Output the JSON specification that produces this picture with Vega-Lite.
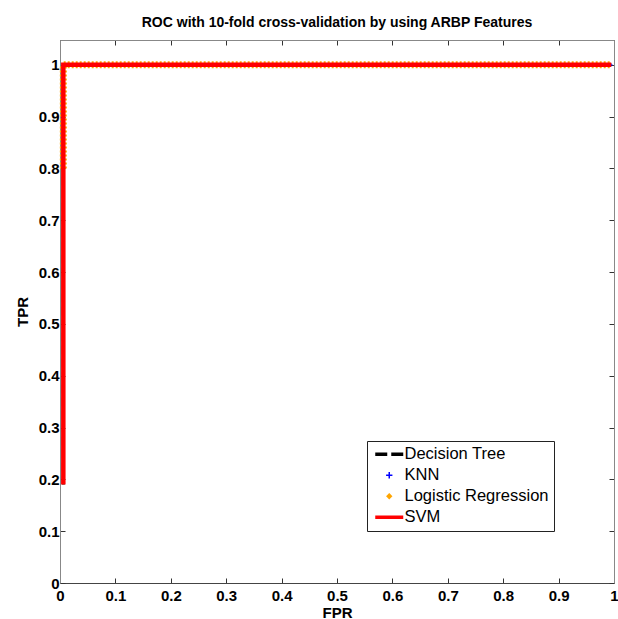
{
  "$schema": "https://vega.github.io/schema/vega-lite/v6.json",
  "width": 554,
  "height": 543,
  "autosize": "none",
  "padding": {"left": 60, "top": 40, "right": 4, "bottom": 36},
  "background": "white",
  "config": {
    "view": {"stroke": "#777"},
    "font": "Liberation Sans",
    "axis": {"grid": false}
  },
  "title": {
    "text": "ROC with 10-fold cross-validation by using ARBP Features",
    "font": "Liberation Sans",
    "fontSize": 14,
    "fontWeight": "bold",
    "color": "black",
    "anchor": "middle",
    "offset": 10
  },
  "data": {
    "values": [
      {"series": "Decision Tree", "fpr": 0.006, "tpr": 0.19, "step": 1},
      {"series": "Decision Tree", "fpr": 0.006, "tpr": 1.0, "step": 2},
      {"series": "Decision Tree", "fpr": 0.995, "tpr": 1.0, "step": 3},
      {"series": "KNN", "fpr": 0.006, "tpr": 1.0, "step": 1},
      {"series": "KNN", "fpr": 0.995, "tpr": 1.0, "step": 2},
      {"series": "Logistic Regression", "fpr": 0.006, "tpr": 0.8, "step": 1},
      {"series": "Logistic Regression", "fpr": 0.006, "tpr": 1.0, "step": 2},
      {"series": "Logistic Regression", "fpr": 0.995, "tpr": 1.0, "step": 3},
      {"series": "SVM", "fpr": 0.006, "tpr": 0.19, "step": 1},
      {"series": "SVM", "fpr": 0.006, "tpr": 1.0, "step": 2},
      {"series": "SVM", "fpr": 0.995, "tpr": 1.0, "step": 3}
    ]
  },
  "resolve": {"axis": {"x": "independent", "y": "independent"}},
  "encoding": {
    "x": {
      "field": "fpr", "type": "quantitative",
      "scale": {"domain": [0, 1], "nice": false, "zero": false},
      "axis": null
    },
    "y": {
      "field": "tpr", "type": "quantitative",
      "scale": {"domain": [0, 1.048], "nice": false, "zero": false},
      "axis": null
    },
    "order": {"field": "step"},
    "color": {
      "field": "series", "type": "nominal",
      "scale": {
        "domain": ["Decision Tree", "KNN", "Logistic Regression", "SVM"],
        "range": ["black", "blue", "orange", "red"]
      },
      "legend": {
        "title": null,
        "orient": "none",
        "legendX": 307,
        "legendY": 401,
        "fillColor": "white",
        "strokeColor": "#222",
        "padding": 5,
        "labelFont": "Liberation Sans",
        "labelFontSize": 16.5,
        "labelColor": "black",
        "labelOffset": 7,
        "symbolOffset": 9,
        "rowPadding": 4,
        "symbolType": "stroke",
        "symbolSize": 784,
        "symbolOpacity": 1,
        "symbolStrokeWidth": 3.5,
        "encoding": {
          "symbols": {
            "shape": {"value": {"expr": "datum.value === 'KNN' ? 'M-1,0H1M0,-1V1' : (datum.value === 'Logistic Regression' ? 'diamond' : 'M-1,0H1')"}},
            "size": {"value": {"expr": "datum.value === 'KNN' ? 40 : (datum.value === 'Logistic Regression' ? 40 : 784)"}},
            "strokeDash": {"value": {"expr": "datum.value === 'Decision Tree' ? [12, 4] : [1, 0]"}},
            "strokeWidth": {"value": {"expr": "datum.value === 'KNN' ? 1.5 : (datum.value === 'Logistic Regression' ? 0 : 3.5)"}},
            "fill": {"value": {"expr": "datum.value === 'Logistic Regression' ? 'orange' : 'transparent'"}}
          }
        }
      }
    }
  },
  "layer": [
    {
      "transform": [{"filter": "datum.series === 'Decision Tree'"}],
      "mark": {"type": "line", "strokeWidth": 3, "strokeDash": [9, 4]},
      "encoding": {
        "x": {
          "field": "fpr", "type": "quantitative",
          "axis": {
            "title": "FPR", "titleFontSize": 15, "titleFontWeight": "bold", "titleColor": "black", "titlePadding": 2,
            "values": [0, 0.1, 0.2, 0.3, 0.4, 0.5, 0.6, 0.7, 0.8, 0.9, 1],
            "format": "~g", "labelFontSize": 15, "labelFontWeight": "bold", "labelColor": "black",
            "tickSize": -5, "tickColor": "#333", "domainColor": "#444", "labelPadding": 10,
            "labelFlush": false
          }
        },
        "y": {
          "field": "tpr", "type": "quantitative",
          "axis": {
            "title": "TPR", "titleFontSize": 15, "titleFontWeight": "bold", "titleColor": "black", "titlePadding": 8,
            "values": [0, 0.1, 0.2, 0.3, 0.4, 0.5, 0.6, 0.7, 0.8, 0.9, 1],
            "format": "~g", "labelFontSize": 15, "labelFontWeight": "bold", "labelColor": "black",
            "tickSize": -5, "tickColor": "#333", "domainColor": "#888", "labelPadding": 6,
            "labelFlush": false
          }
        }
      }
    },
    {
      "transform": [{"filter": "datum.series === 'KNN'"}],
      "mark": {"type": "point", "shape": "cross", "size": 8, "filled": true}
    },
    {
      "transform": [{"filter": "datum.series === 'Logistic Regression'"}],
      "mark": {"type": "line", "strokeWidth": 7, "strokeDash": [2, 2]}
    },
    {
      "transform": [{"filter": "datum.series === 'SVM'"}],
      "mark": {"type": "line", "strokeWidth": 4.5}
    },
    {
      "transform": [{"filter": "datum.series === 'SVM'"}],
      "mark": {"type": "point", "opacity": 0},
      "encoding": {
        "color": {"value": "transparent"},
        "x": {
          "field": "fpr", "type": "quantitative",
          "axis": {"orient": "top", "labels": false, "title": null, "values": [0, 0.1, 0.2, 0.3, 0.4, 0.5, 0.6, 0.7, 0.8, 0.9, 1], "tickSize": -5, "tickColor": "#333", "domainColor": "#888"}
        },
        "y": {
          "field": "tpr", "type": "quantitative",
          "axis": {"orient": "right", "labels": false, "title": null, "values": [0, 0.1, 0.2, 0.3, 0.4, 0.5, 0.6, 0.7, 0.8, 0.9, 1], "tickSize": -5, "tickColor": "#333", "domainColor": "#888"}
        }
      }
    }
  ]
}
